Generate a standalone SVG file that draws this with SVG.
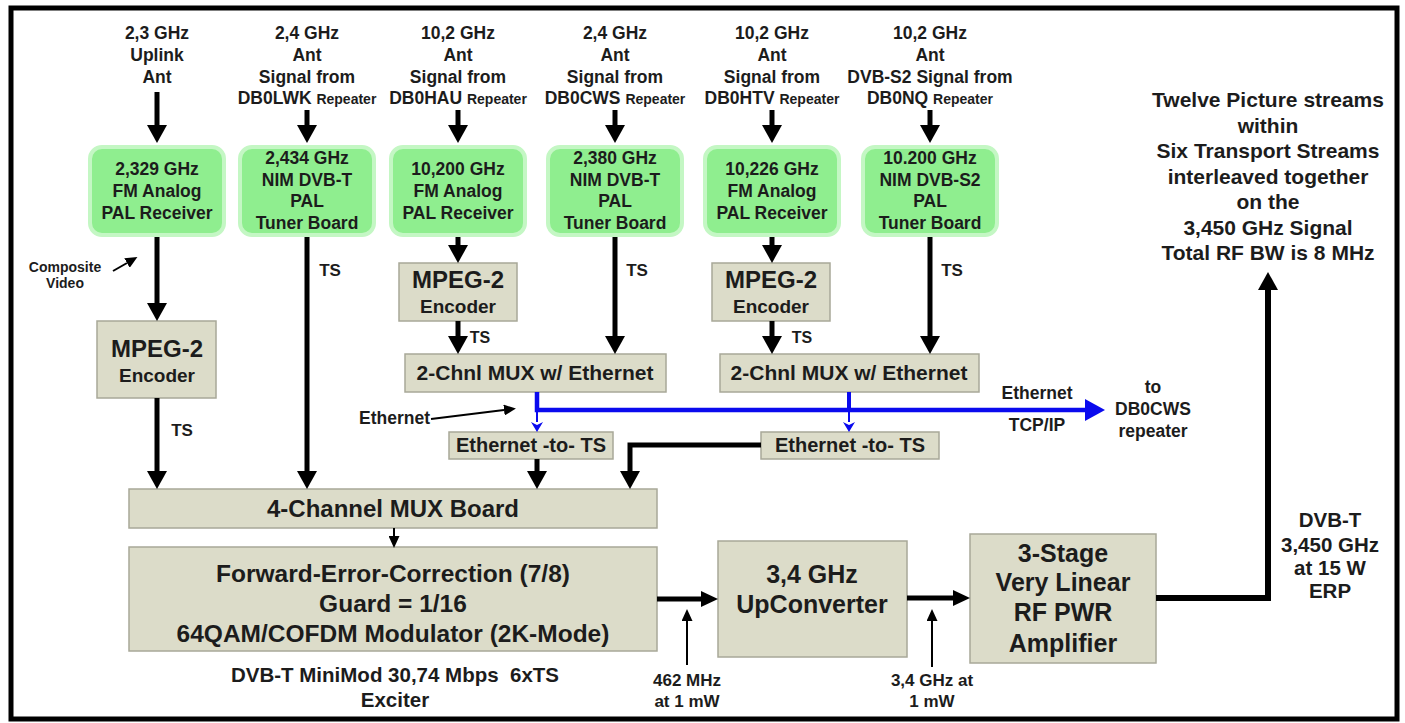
<svg xmlns="http://www.w3.org/2000/svg" width="1405" height="723" viewBox="0 0 1405 723">
<style>
text{font-family:"Liberation Sans",Arial,sans-serif;font-weight:bold;fill:#1c1c1c;text-anchor:middle}
.f17{font-size:17.5px}.f14{font-size:14px}.rep{font-size:14px}
.grn{fill:#8fee8f;stroke:#c4f7c4;stroke-width:4}
.box{fill:#dcdcc9;stroke:#a8a898;stroke-width:1.5}
.k{stroke:#000;fill:none}
.b{stroke:#0a0aee;fill:none}
</style>
<defs>
<marker id="mBig" markerUnits="userSpaceOnUse" markerWidth="18" markerHeight="20" viewBox="0 0 18 20" refX="0" refY="10" orient="auto"><path d="M0,0 L18,10 L0,20 z" fill="#000"/></marker>
<marker id="mMed" markerUnits="userSpaceOnUse" markerWidth="17" markerHeight="16" viewBox="0 0 17 16" refX="0" refY="8" orient="auto"><path d="M0,0 L17,8 L0,16 z" fill="#000"/></marker>
<marker id="mSm" markerUnits="userSpaceOnUse" markerWidth="12" markerHeight="11" viewBox="0 0 12 11" refX="0" refY="5.5" orient="auto"><path d="M0,0 L12,5.5 L0,11 z" fill="#000"/></marker>
<marker id="mBlueSm" markerUnits="userSpaceOnUse" markerWidth="10" markerHeight="12" viewBox="0 0 10 12" refX="0" refY="6" orient="auto"><path d="M0,0 L10,6 L0,12 L3,6 z" fill="#0a0aee"/></marker>
<marker id="mBlue" markerUnits="userSpaceOnUse" markerWidth="20" markerHeight="22" viewBox="0 0 20 22" refX="0" refY="11" orient="auto"><path d="M0,0 L20,11 L0,22 z" fill="#0a0aee"/></marker>
</defs>
<rect width="1405" height="723" fill="#fff"/>
<rect x="11" y="8" width="1386" height="711" fill="none" stroke="#000" stroke-width="5"/>

<g id="labels-top">
<text class="f17"><tspan x="157" y="39">2,3 GHz</tspan><tspan x="157" y="61">Uplink</tspan><tspan x="157" y="83">Ant</tspan></text>
<text class="f17"><tspan x="307" y="39">2,4 GHz</tspan><tspan x="307" y="61">Ant</tspan><tspan x="307" y="83">Signal from</tspan><tspan x="307" y="104">DB0LWK <tspan class="rep">Repeater</tspan></tspan></text>
<text class="f17"><tspan x="458" y="39">10,2 GHz</tspan><tspan x="458" y="61">Ant</tspan><tspan x="458" y="83">Signal from</tspan><tspan x="458" y="104">DB0HAU <tspan class="rep">Repeater</tspan></tspan></text>
<text class="f17"><tspan x="615" y="39">2,4 GHz</tspan><tspan x="615" y="61">Ant</tspan><tspan x="615" y="83">Signal from</tspan><tspan x="615" y="104">DB0CWS <tspan class="rep">Repeater</tspan></tspan></text>
<text class="f17"><tspan x="772" y="39">10,2 GHz</tspan><tspan x="772" y="61">Ant</tspan><tspan x="772" y="83">Signal from</tspan><tspan x="772" y="104">DB0HTV <tspan class="rep">Repeater</tspan></tspan></text>
<text class="f17"><tspan x="930" y="39">10,2 GHz</tspan><tspan x="930" y="61">Ant</tspan><tspan x="930" y="83">DVB-S2 Signal from</tspan><tspan x="930" y="104">DB0NQ <tspan class="rep">Repeater</tspan></tspan></text>
<text style="font-size:21px"><tspan x="1268" y="107">Twelve Picture streams</tspan><tspan x="1268" y="133">within</tspan><tspan x="1268" y="158">Six Transport Streams</tspan><tspan x="1268" y="184">interleaved together</tspan><tspan x="1268" y="209">on the</tspan><tspan x="1268" y="235">3,450 GHz Signal</tspan><tspan x="1268" y="260">Total RF BW is 8 MHz</tspan></text>
</g>

<g id="rx1"><rect class="grn" x="90" y="147" width="134" height="88" rx="12"/><text class="f17"><tspan x="157" y="175">2,329 GHz</tspan><tspan x="157" y="197">FM Analog</tspan><tspan x="157" y="219">PAL Receiver</tspan></text></g>
<g id="tuner1"><rect class="grn" x="240" y="147" width="134" height="88" rx="12"/><text class="f17"><tspan x="307" y="164">2,434 GHz</tspan><tspan x="307" y="185.5">NIM DVB-T</tspan><tspan x="307" y="207">PAL</tspan><tspan x="307" y="228.5">Tuner Board</tspan></text></g>
<g id="rx2"><rect class="grn" x="391" y="147" width="134" height="88" rx="12"/><text class="f17"><tspan x="458" y="175">10,200 GHz</tspan><tspan x="458" y="197">FM Analog</tspan><tspan x="458" y="219">PAL Receiver</tspan></text></g>
<g id="tuner2"><rect class="grn" x="548" y="147" width="134" height="88" rx="12"/><text class="f17"><tspan x="615" y="164">2,380 GHz</tspan><tspan x="615" y="185.5">NIM DVB-T</tspan><tspan x="615" y="207">PAL</tspan><tspan x="615" y="228.5">Tuner Board</tspan></text></g>
<g id="rx3"><rect class="grn" x="705" y="147" width="134" height="88" rx="12"/><text class="f17"><tspan x="772" y="175">10,226 GHz</tspan><tspan x="772" y="197">FM Analog</tspan><tspan x="772" y="219">PAL Receiver</tspan></text></g>
<g id="tuner3"><rect class="grn" x="863" y="147" width="134" height="88" rx="12"/><text class="f17"><tspan x="930" y="164">10.200 GHz</tspan><tspan x="930" y="185.5">NIM DVB-S2</tspan><tspan x="930" y="207">PAL</tspan><tspan x="930" y="228.5">Tuner Board</tspan></text></g>

<g id="enc1"><rect class="box" x="97" y="321" width="119" height="77"/><text><tspan x="157" y="357" style="font-size:24px">MPEG-2</tspan><tspan x="157" y="382" style="font-size:19px">Encoder</tspan></text></g>
<g id="enc2"><rect class="box" x="399" y="263" width="118" height="58"/><text><tspan x="458" y="288" style="font-size:24px">MPEG-2</tspan><tspan x="458" y="313" style="font-size:19px">Encoder</tspan></text></g>
<g id="enc3"><rect class="box" x="712" y="263" width="118" height="58"/><text><tspan x="771" y="288" style="font-size:24px">MPEG-2</tspan><tspan x="771" y="313" style="font-size:19px">Encoder</tspan></text></g>

<g id="mux1"><rect class="box" x="405" y="354" width="261" height="38"/><text x="535" y="380" style="font-size:21px">2-Chnl MUX w/ Ethernet</text></g>
<g id="mux2"><rect class="box" x="720" y="354" width="259" height="38"/><text x="849" y="380" style="font-size:21px">2-Chnl MUX w/ Ethernet</text></g>
<g id="eth1"><rect class="box" x="449" y="432" width="164" height="27"/><text x="531" y="452" style="font-size:20px">Ethernet -to- TS</text></g>
<g id="eth2"><rect class="box" x="761" y="432" width="178" height="27"/><text x="850" y="452" style="font-size:20px">Ethernet -to- TS</text></g>

<g id="mux4"><rect class="box" x="129" y="489" width="528" height="39"/><text x="393" y="517" style="font-size:24px">4-Channel MUX Board</text></g>
<g id="fec"><rect class="box" x="129" y="547" width="528" height="104"/><text style="font-size:24.5px"><tspan x="393" y="582">Forward-Error-Correction (7/8)</tspan><tspan x="393" y="612">Guard = 1/16</tspan><tspan x="393" y="642">64QAM/COFDM Modulator (2K-Mode)</tspan></text></g>
<g id="upconv"><rect class="box" x="718" y="541" width="189" height="116"/><text style="font-size:25px"><tspan x="812" y="583">3,4 GHz</tspan><tspan x="812" y="613">UpConverter</tspan></text></g>
<g id="amp"><rect class="box" x="970" y="534" width="186" height="129"/><text style="font-size:25px"><tspan x="1063" y="562">3-Stage</tspan><tspan x="1063" y="591">Very Linear</tspan><tspan x="1063" y="621">RF PWR</tspan><tspan x="1063" y="652">Amplifier</tspan></text></g>

<g id="connectors">
<g class="k" stroke-width="5">
<path d="M157,92 V125" marker-end="url(#mBig)"/>
<path d="M307,110 V125" marker-end="url(#mBig)"/>
<path d="M458,110 V125" marker-end="url(#mBig)"/>
<path d="M615,110 V125" marker-end="url(#mBig)"/>
<path d="M772,110 V125" marker-end="url(#mBig)"/>
<path d="M930,110 V125" marker-end="url(#mBig)"/>
<path d="M157,237 V303" marker-end="url(#mBig)"/>
<path d="M157,398 V471" marker-end="url(#mBig)"/>
<path d="M307,237 V471" marker-end="url(#mBig)"/>
<path d="M458,237 V245" marker-end="url(#mBig)"/>
<path d="M458,321 V336" marker-end="url(#mBig)"/>
<path d="M615,237 V336" marker-end="url(#mBig)"/>
<path d="M772,237 V245" marker-end="url(#mBig)"/>
<path d="M772,321 V336" marker-end="url(#mBig)"/>
<path d="M930,237 V336" marker-end="url(#mBig)"/>
<path d="M537,459 V471" marker-end="url(#mBig)"/>
<path d="M761,445 H630 V471" marker-end="url(#mBig)"/>
<path d="M657,599 H701" marker-end="url(#mMed)"/>
<path d="M907,598 H953" marker-end="url(#mMed)"/>
<path d="M1156,598 H1268 V290" stroke-width="6" marker-end="url(#mBig)"/>
</g>
<g class="k" stroke-width="2">
<path d="M394,528 V536" marker-end="url(#mSm)"/>
<path d="M687,665 V621" marker-end="url(#mSm)"/>
<path d="M932,667 V621" marker-end="url(#mSm)"/>
<path d="M113,271 L127,263" marker-end="url(#mSm)"/>
<path d="M431,419 L504,410" marker-end="url(#mSm)"/>
</g>
<path class="b" stroke-width="4.5" d="M537,392 V410 H1085" marker-end="url(#mBlue)"/>
<path class="b" stroke-width="4" d="M849,392 V410"/>
<path class="b" stroke-width="2" d="M537,410 V422" marker-end="url(#mBlueSm)"/>
<path class="b" stroke-width="2" d="M849,410 V422" marker-end="url(#mBlueSm)"/>
</g>

<g id="labels">
<text class="f14"><tspan x="65" y="272">Composite</tspan><tspan x="65" y="288">Video</tspan></text>
<text style="font-size:17px" x="182" y="436">TS</text>
<text style="font-size:17px" x="330" y="276">TS</text>
<text style="font-size:17px" x="637" y="276">TS</text>
<text style="font-size:17px" x="952" y="276">TS</text>
<text style="font-size:16px" x="480" y="343">TS</text>
<text style="font-size:16px" x="802" y="343">TS</text>
<text class="f17" x="430" y="424" style="text-anchor:end">Ethernet</text>
<text class="f17"><tspan x="1037" y="399">Ethernet</tspan><tspan x="1037" y="431">TCP/IP</tspan></text>
<text class="f17"><tspan x="1153" y="393">to</tspan><tspan x="1153" y="415">DB0CWS</tspan><tspan x="1153" y="437">repeater</tspan></text>
<text style="font-size:20.5px"><tspan x="1330" y="527">DVB-T</tspan><tspan x="1330" y="552">3,450 GHz</tspan><tspan x="1330" y="575">at 15 W</tspan><tspan x="1330" y="598">ERP</tspan></text>
<text style="font-size:17px"><tspan x="687" y="686">462 MHz</tspan><tspan x="687" y="707">at 1 mW</tspan></text>
<text style="font-size:17px"><tspan x="932" y="686">3,4 GHz at</tspan><tspan x="932" y="707">1 mW</tspan></text>
<text style="font-size:20.5px;white-space:pre"><tspan x="395" y="682">DVB-T MiniMod 30,74 Mbps  6xTS</tspan><tspan x="395" y="707">Exciter</tspan></text>
</g>
</svg>
